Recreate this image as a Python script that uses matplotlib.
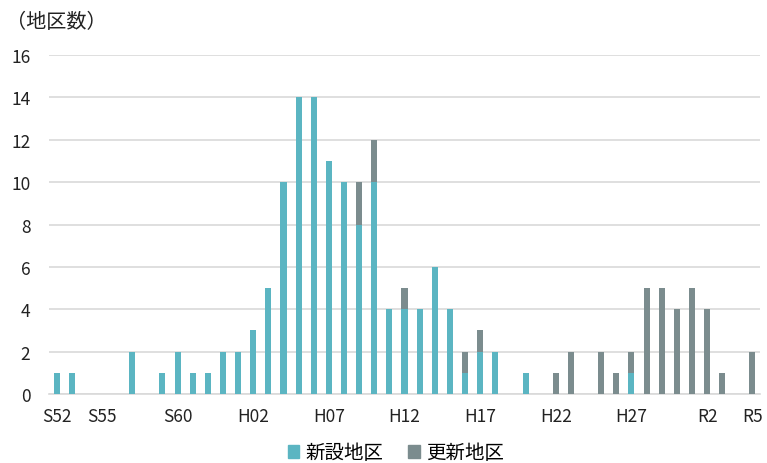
import matplotlib
matplotlib.use("Agg")
import matplotlib.pyplot as plt
from matplotlib.patches import Patch
import numpy as np

plt.rcParams['font.family'] = ['Noto Sans CJK JP', 'DejaVu Sans']

# 年度 S52(1977) ～ R5(2023)
years = list(range(1977, 2024))
# 新設地区
new_counts = [1, 1, 0, 0, 0, 2, 0, 1, 2, 1,
              1, 2, 2, 3, 5, 10, 14, 14, 11, 10,
              8, 10, 4, 4, 4, 6, 4, 1, 2, 2,
              0, 1, 0, 0, 0, 0, 0, 0, 1, 0,
              0, 0, 0, 0, 0, 0, 0]
# 更新地区
renew_counts = [0, 0, 0, 0, 0, 0, 0, 0, 0, 0,
                0, 0, 0, 0, 0, 0, 0, 0, 0, 0,
                2, 2, 0, 1, 0, 0, 0, 1, 1, 0,
                0, 0, 0, 1, 2, 0, 2, 1, 1, 5,
                5, 4, 5, 4, 1, 0, 2]
tick_idx = [0, 3, 8, 13, 18, 23, 28, 33, 38, 43, 46]
tick_labels = ["S52", "S55", "S60", "H02", "H07", "H12", "H17", "H22", "H27", "R2", "R5"]

teal = "#5BB5C2"
grey = "#7B8C8E"

fig = plt.figure(figsize=(7.67, 4.64), dpi=100)
ax = fig.add_axes([0.0639, 0.1487, 0.927, 0.7306])

x = np.arange(len(years))
ax.bar(x, new_counts, width=0.4, color=teal, zorder=3)
ax.bar(x, renew_counts, width=0.4, bottom=new_counts, color=grey, zorder=3)

ax.set_xlim(-0.5, len(years) - 0.5)
ax.set_ylim(0, 16)
ax.set_yticks(range(0, 17, 2))
ax.set_xticks(tick_idx)
ax.set_xticklabels(tick_labels)
ax.tick_params(axis="both", length=0, labelsize=12.5, colors="#222222")
ax.tick_params(axis="y", pad=13.5)
ax.tick_params(axis="x", pad=9)

ax.grid(axis="y", color="#D9D9D9", linewidth=1.2, zorder=0)
for s in ["top", "right", "left"]:
    ax.spines[s].set_visible(False)
ax.spines["bottom"].set_color("#D9D9D9")
ax.spines["bottom"].set_linewidth(1.2)

fig.text(0.008, 0.952, "（地区数）", fontsize=14.5, ha="left", va="center", color="#222222")

handles = [Patch(color=teal, label="新設地区"), Patch(color=grey, label="更新地区")]
fig.legend(handles=handles, loc="center", bbox_to_anchor=(0.516, 0.022), ncol=2,
           frameon=False, fontsize=14, handlelength=0.6, handleheight=0.6,
           handletextpad=0.3, columnspacing=1.3)

fig.savefig("out.png", dpi=100)
